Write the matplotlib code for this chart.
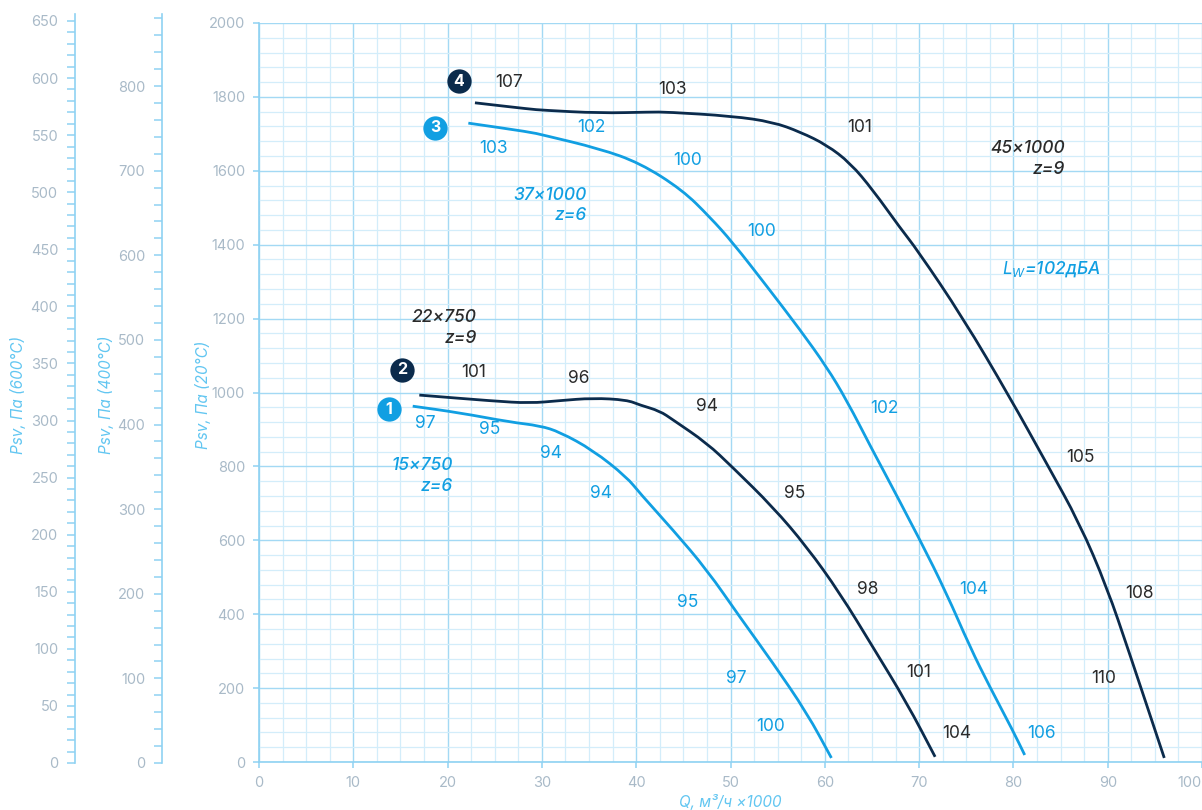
import matplotlib
matplotlib.use('Agg')
import matplotlib.pyplot as plt
from matplotlib.ticker import MultipleLocator, FuncFormatter
from matplotlib.path import Path
from matplotlib.patches import PathPatch

plt.rcParams['font.family'] = ['Inter', 'DejaVu Sans']
plt.rcParams['mathtext.fontset'] = 'custom'
plt.rcParams['mathtext.it'] = 'Inter:italic'
plt.rcParams['mathtext.rm'] = 'Inter'

# Fan curves: Q (m3/h x1000) vs Psv (Pa at 20C)
q1 = [16.3, 21.3, 26.6, 29.8, 31.9, 35.4, 39.0, 40.4, 43.9, 47.5, 51.0, 54.5, 58.1, 60.7]
p1 = [963, 945, 920, 910, 893, 844, 771, 727, 628, 520, 392, 268, 133, 11]

q2 = [17.0, 24.8, 28.7, 31.9, 35.4, 39.0, 40.4, 42.5, 43.9, 47.5, 50.2, 54.5, 58.1, 61.6, 65.1, 68.7, 71.7]
p2 = [993, 977, 971, 978, 985, 980, 966, 950, 926, 863, 798, 690, 582, 457, 311, 160, 14]

q3 = [22.2, 28.7, 30.1, 36.1, 40.4, 44.9, 47.8, 50.2, 53.9, 57.4, 60.2, 62.3, 65.1, 65.8,
      70.1, 72.9, 75.4, 77.5, 79.9, 81.2]
p3 = [1729, 1705, 1697, 1660, 1621, 1548, 1475, 1407, 1286, 1169, 1069, 980, 842, 809,
      601, 457, 311, 203, 87, 19]

q4 = [22.9, 28.7, 30.1, 36.1, 41.5, 43.3, 50.2, 54.5, 57.4, 60.2, 62.7, 65.1, 68.0, 69.8,
      74.6, 79.6, 83.5, 87.0, 89.9, 92.3, 96.0]
p4 = [1784, 1767, 1764, 1756, 1759, 1759, 1748, 1732, 1705, 1670, 1621, 1548, 1445, 1386,
      1204, 988, 809, 647, 474, 295, 11]

# noise level labels along curves (x, y, text)
lw1 = [(17.6, 917, '97'), (24.5, 899, '95'), (31.0, 836, '94'), (36.3, 728, '94'),
       (45.5, 433, '95'), (50.6, 227, '97'), (54.2, 97, '100')]
lw2 = [(22.8, 1055, '101'), (33.9, 1039, '96'), (47.5, 963, '94'), (56.8, 728, '95'),
       (64.5, 466, '98'), (69.9, 241, '101'), (74.0, 76, '104')]
lw3 = [(24.9, 1659, '103'), (35.2, 1718, '102'), (45.4, 1629, '100'), (53.3, 1437, '100'),
       (66.3, 958, '102'), (75.8, 468, '104'), (83.0, 76, '106')]
lw4 = [(26.5, 1840, '107'), (43.8, 1821, '103'), (63.7, 1718, '101'), (87.1, 823, '105'),
       (93.4, 455, '108'), (89.6, 227, '110')]

# numbered markers
badges = [(13.8, 955, '1'), (15.2, 1061, '2'), (18.7, 1716, '3'), (21.2, 1843, '4')]

# model notes (right edge x, centre y, text)
notes = [(20.6, 774, '15×750\nz=6', 'light'), (23.1, 1175, '22×750\nz=9', 'dark'),
         (34.8, 1506, '37×1000\nz=6', 'light'), (85.5, 1631, '45×1000\nz=9', 'dark')]

LIGHT = '#119fe2'
DARK = '#0b2b4c'
TXT_DARK = '#2a2a2a'
TICK = '#a9bac8'
AXLAB = '#62c6f1'
SPINE = '#8fd2f2'
GRID_MAJ = '#a3d9f4'
GRID_MIN = '#d3edfa'

W, H = 1202, 810
fig = plt.figure(figsize=(W / 100, H / 100), dpi=100)

ax = fig.add_axes([259 / W, 1 - 762 / H, (W - 259) / W, (762 - 23) / H])
ax.set_xlim(0, 100)
ax.set_ylim(0, 2000)
ax.xaxis.set_major_locator(MultipleLocator(10))
ax.xaxis.set_minor_locator(MultipleLocator(2.5))
ax.yaxis.set_major_locator(MultipleLocator(200))
ax.yaxis.set_minor_locator(MultipleLocator(40))
ax.grid(which='major', color=GRID_MAJ, lw=1.0)
ax.grid(which='minor', color=GRID_MIN, lw=0.9)
ax.set_axisbelow(True)
for s in ['top', 'right']:
    ax.spines[s].set_visible(False)
for s in ['left', 'bottom']:
    ax.spines[s].set_color(SPINE)
    ax.spines[s].set_linewidth(1.2)
ax.tick_params(which='major', length=4, width=1.1, color=SPINE, labelcolor=TICK,
               labelsize=10.5, pad=6)
ax.tick_params(which='minor', length=0)
# last x label sits at the figure edge: draw it right-aligned instead
ax.xaxis.set_major_formatter(FuncFormatter(lambda v, p: '' if v >= 100 else f'{v:.0f}'))
ax.text(100, -0.0195, '100', transform=ax.get_xaxis_transform(), ha='right', va='top',
        color=TICK, fontsize=10.5)


def smooth_curve(xs, ys, color):
    # quadratic bezier through midpoints: a smooth rendering of the traced points
    pts = list(zip(xs, ys))
    verts = [pts[0]]
    codes = [Path.MOVETO]
    m = ((pts[0][0] + pts[1][0]) / 2, (pts[0][1] + pts[1][1]) / 2)
    verts.append(m)
    codes.append(Path.LINETO)
    for i in range(1, len(pts) - 1):
        m2 = ((pts[i][0] + pts[i + 1][0]) / 2, (pts[i][1] + pts[i + 1][1]) / 2)
        verts += [pts[i], m2]
        codes += [Path.CURVE3, Path.CURVE3]
    verts.append(pts[-1])
    codes.append(Path.LINETO)
    ax.add_patch(PathPatch(Path(verts, codes), fill=False, edgecolor=color, lw=2.0,
                           capstyle='butt', zorder=3))


smooth_curve(q1, p1, LIGHT)
smooth_curve(q2, p2, DARK)
smooth_curve(q3, p3, LIGHT)
smooth_curve(q4, p4, DARK)

for lst, c in [(lw1, LIGHT), (lw2, TXT_DARK), (lw3, LIGHT), (lw4, TXT_DARK)]:
    for x, y, t in lst:
        ax.text(x, y, t, color=c, fontsize=12.5, ha='center', va='center')

for x, y, t in badges:
    c = LIGHT if t in ('1', '3') else DARK
    ax.plot(x, y, 'o', ms=17.5, color=c, mec='none', zorder=5)
    ax.text(x, y, t, color='white', fontsize=11.5, fontweight='bold',
            ha='center', va='center', zorder=6)

for x, y, t, kind in notes:
    c = LIGHT if kind == 'light' else TXT_DARK
    ax.text(x, y, t, color=c, fontsize=12.5, style='italic', fontweight='medium',
            ha='right', va='center', linespacing=1.3, multialignment='right')

ax.text(78.8, 1334, r'$L_W$=102дБА', color=LIGHT, fontsize=12.5, style='italic',
        fontweight='medium', ha='left', va='center')


# secondary pressure scales at 400C and 600C
def side_axis(xpix, top, major, minor):
    a = fig.add_axes([xpix / W, 1 - 763 / H, 0.00001, (763 - 14) / H])
    a.set_ylim(0, top)
    a.set_xticks([])
    a.patch.set_visible(False)
    for s in ['top', 'right', 'bottom']:
        a.spines[s].set_visible(False)
    a.spines['left'].set_color(SPINE)
    a.spines['left'].set_linewidth(1.2)
    a.yaxis.set_major_locator(MultipleLocator(major))
    a.yaxis.set_minor_locator(MultipleLocator(minor))
    a.tick_params(which='both', length=6, width=1.1, color=SPINE, labelcolor=TICK,
                  labelsize=10.5, pad=6)
    return a


side_axis(75, 749 / (742 / 650), 50, 10)
side_axis(162, 748 / (676 / 800), 100, 20)

fig.text(18 / W, 1 - 395 / H, 'Psv, Па (600°C)', rotation=90, color=AXLAB,
         style='italic', fontsize=11, ha='center', va='center')
fig.text(106 / W, 1 - 395 / H, 'Psv, Па (400°C)', rotation=90, color=AXLAB,
         style='italic', fontsize=11, ha='center', va='center')
fig.text(203 / W, 1 - 395 / H, 'Psv, Па (20°C)', rotation=90, color=AXLAB,
         style='italic', fontsize=11, ha='center', va='center')
fig.text(730 / W, 1 - 802 / H, 'Q, м³/ч ×1000', color=AXLAB, style='italic',
         fontsize=11, ha='center', va='center')

fig.savefig('out.png', dpi=100)
